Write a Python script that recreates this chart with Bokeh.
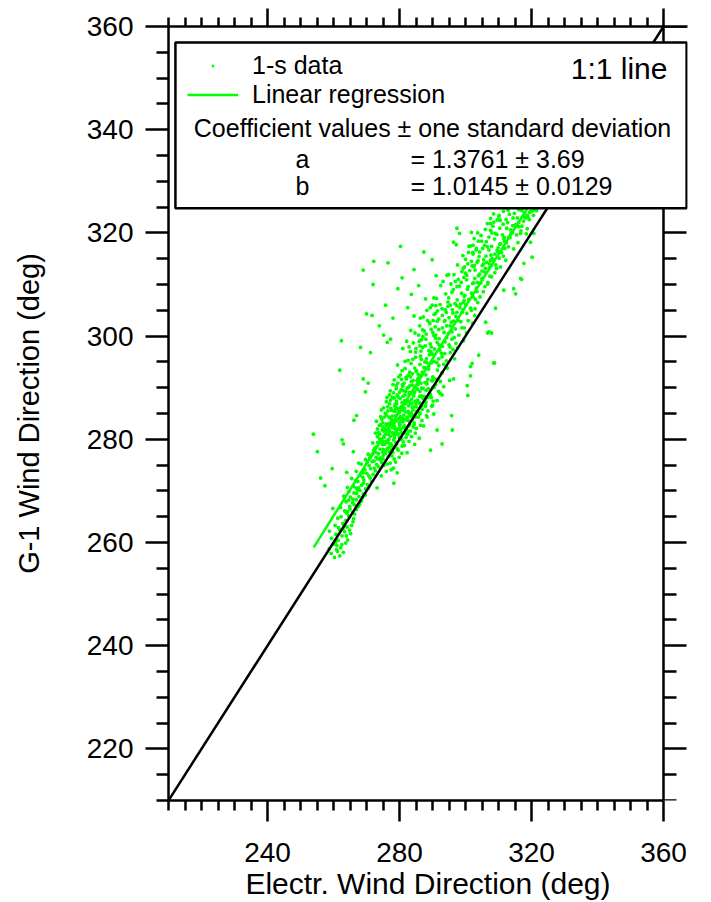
from bokeh.plotting import figure
from bokeh.models import (LinearAxis, FixedTicker, Range1d, BoxAnnotation, Label,
                          Legend, LegendItem, ColumnDataSource)
from bokeh.embed import file_html
from bokeh.resources import INLINE

FONT = "Liberation Sans"
GREEN = "#00ff00"

# ---------------- data ----------------
x_limits = [210, 360]
y_limits = [210, 360]
x_major_ticks = [240, 280, 320, 360]
y_major_ticks = [220, 240, 260, 280, 300, 320, 340, 360]
minor_step = 5

coef_names = ["a", "b"]
coef_values = ["1.3761", "1.0145"]
coef_sigmas = ["3.69", "0.0129"]
reg_intercept = 1.3761
reg_slope = 1.0145
reg_x_extent = [254.0, 323.0]
one_to_one = [210, 360]

lower_band = [
    (260.3,257.1),(261.9,257.4),(259.3,257.9),(263.0,258.1),(260.9,258.6),(258.7,258.8),(262.2,259.0),(260.1,259.7),(263.7,259.9),(261.4,260.4),
    (259.4,260.8),(264.3,260.5),(262.6,261.3),(260.7,261.6),(263.4,262.1),(265.2,261.7),(261.8,262.5),(264.1,263.0),(262.8,263.7),(260.5,263.3),
    (265.5,263.3),(263.7,264.3),(266.1,264.6),(264.6,265.2),(262.3,265.0),(265.8,265.9),(263.4,266.1),(266.9,266.4),(264.9,267.0),(267.5,267.0),
    (265.8,267.7),(263.8,267.9),(266.9,268.3),(268.4,268.0),(265.1,268.8),(267.7,268.9),(266.2,269.6),(269.0,269.4),(264.7,269.9),(267.3,270.2),
    (269.7,270.4),(266.0,270.9),(268.5,271.1),(270.3,271.2),(267.4,271.8),(269.2,272.1),(265.5,272.4),(271.1,272.5),(268.1,273.0),(270.1,273.4),
    (272.0,273.2),(266.9,273.8),(269.5,274.1),(272.4,274.4),(270.8,274.9),(268.4,275.2),(273.1,275.1),(271.7,275.7),(269.7,276.1),(274.2,276.0),
    (261.3,264.7),(263.1,269.0),(262.1,266.8),(266.7,272.0),(264.2,270.7),(270.5,277.1),(272.9,276.5),(275.1,276.9),(258.8,262.2),(259.8,266.6),
    (261.2,258.3),(262.5,259.6),(260.6,260.0),(263.9,261.3),(261.5,262.9),(264.9,262.4),(263.2,263.1),(265.9,264.0),(264.3,266.0),(266.4,265.5),
    (265.0,266.5),(267.9,267.4),(266.3,267.3),(268.8,268.7),(264.6,268.2),(267.0,269.5),(269.6,269.2),(268.0,270.1),(270.6,270.6),(266.8,270.6),
    (269.1,271.5),(271.5,271.8),(268.9,272.6),(270.7,272.9),(272.7,273.9),(269.0,273.5),(271.3,274.3),(273.6,274.7),(270.2,275.5),(272.3,275.8),
    (274.6,275.5),(271.0,276.4),(273.4,276.2),(275.8,277.3),(272.0,277.2),(267.6,270.6),(265.9,268.4),(264.0,265.7),(262.9,262.6),(261.0,259.4),
]

blob = [
    (271.4,276.8),(273.6,277.2),(272.2,277.9),(274.9,277.5),(276.3,278.2),(273.1,278.6),(275.5,279.0),(271.9,279.3),(277.4,279.1),(274.4,279.7),
    (276.8,280.0),(273.3,280.5),(278.5,280.3),(275.7,280.9),(272.7,281.2),(277.9,281.3),(279.6,281.0),(274.8,281.8),(276.6,282.1),(280.4,281.9),
    (278.6,282.4),(273.9,282.7),(281.5,282.6),(275.9,283.0),(277.7,283.4),(279.9,283.2),(282.3,283.7),(274.6,283.9),(276.8,284.3),(280.9,284.1),
    (278.9,284.6),(283.2,284.5),(275.7,285.0),(281.9,285.3),(277.6,285.6),(279.8,285.9),(284.1,285.7),(276.4,286.3),(282.8,286.5),(278.7,286.8),
    (280.8,287.1),(285.0,286.9),(277.3,287.6),(283.7,287.8),(279.6,288.2),(281.7,288.6),(286.1,288.3),(278.2,289.0),(284.6,289.2),(280.5,289.6),
    (282.7,290.1),(287.2,289.8),(279.0,290.4),(285.6,290.6),(281.4,290.9),(288.3,290.7),(283.6,291.2),(272.5,278.3),(274.2,276.4),(277.0,277.6),
    (278.9,279.4),(280.7,280.2),(282.6,281.6),(284.4,283.2),(286.2,285.1),(287.9,286.6),(289.4,288.5),(276.0,279.6),(278.1,282.9),(280.0,285.2),
    (281.8,286.9),(283.5,288.9),(285.3,291.4),(275.2,281.6),(277.1,284.2),(279.2,286.9),(281.2,289.4),(273.0,283.5),(274.5,285.7),(276.2,288.1),
    (278.0,290.6),(279.8,292.1),(282.9,285.0),(284.8,287.4),(286.7,289.9),(288.6,291.6),(281.0,283.4),(283.9,286.2),(275.1,278.0),(277.8,278.7),
    (279.7,282.0),(281.3,284.7),(283.0,287.3),(284.9,290.0),(286.6,292.4),(274.0,280.1),(276.9,283.1),(278.4,285.4),(280.2,287.9),(282.1,291.7),
    (276.5,279.3),(277.2,280.6),(278.2,279.9),(279.1,281.5),(277.9,282.2),(280.1,282.9),(279.0,283.6),(281.4,283.9),(280.3,284.4),(282.6,285.4),
    (281.5,286.0),(283.4,286.9),(282.4,287.5),(284.3,288.4),(283.0,289.1),(285.4,289.7),(284.0,290.5),(286.5,290.9),(277.6,283.8),(278.8,285.9),
    (280.6,286.4),(279.3,288.6),(281.9,289.3),(278.1,281.2),(276.0,282.7),(275.4,284.3),(277.4,286.0),(280.0,289.1),(281.0,290.3),(282.0,282.2),
    (283.0,283.5),(284.0,284.6),(285.1,286.3),(286.0,287.1),(287.0,288.0),(288.1,289.5),(276.9,278.5),(274.8,279.0),(273.7,281.3),(275.8,282.0),
    (274.3,282.8),(278.4,288.0),(277.0,288.6),(279.5,290.9),(283.3,292.1),(285.1,293.2),(287.4,293.9),(284.7,284.8),(286.4,286.0),(287.7,287.7),
    (272.8,277.5),(274.1,278.1),(275.9,277.9),(277.6,278.0),(273.4,279.4),(275.0,279.6),(276.6,279.9),(278.3,280.8),(279.9,280.4),(274.0,281.0),
    (275.3,280.4),(277.0,281.6),(278.8,281.9),(280.5,281.3),(281.9,282.0),(273.3,282.0),(275.0,282.4),(276.6,282.9),(278.4,283.1),(280.6,283.6),
    (282.4,284.0),(274.3,284.4),(276.0,284.7),(277.8,284.5),(279.5,285.3),(281.0,285.6),(283.6,285.1),(275.2,286.1),(277.0,286.9),(278.6,286.4),
    (280.3,286.1),(282.0,287.2),(283.8,287.0),(285.5,287.6),(276.0,287.3),(277.8,288.1),(279.1,287.4),(281.0,288.3),(282.9,288.7),(284.5,289.0),
    (286.2,289.3),(277.2,289.4),(279.0,289.8),(280.9,290.6),(282.3,289.9),(284.1,291.4),(285.9,291.1),(287.7,291.0),(278.4,291.5),(280.3,292.5),
    (282.0,292.0),(283.9,292.7),(286.0,292.0),(288.0,292.5),(289.9,291.5),(276.7,281.0),(279.0,281.0),(281.2,282.3),(283.1,282.9),(284.9,284.3),
    (286.7,286.5),(288.5,288.1),(290.1,290.0),(274.9,283.2),(277.3,283.2),(279.8,284.0),(276.5,285.5),(279.0,286.1),(281.6,287.5),(283.2,290.4),
]

blob_right = [
    (274.5,272.9),(276.0,273.8),(275.3,274.9),(277.2,275.4),(276.6,276.6),(278.4,276.2),(278.0,277.5),(279.6,277.9),(279.1,279.0),(280.8,278.7),
    (280.3,280.0),(282.0,280.4),(281.6,281.2),(283.3,281.6),(282.8,282.6),(284.5,282.9),(283.9,283.9),(285.7,284.3),(285.2,285.4),(286.9,285.8),
    (286.3,286.9),(288.0,287.2),(287.5,288.3),(289.3,288.8),(288.7,289.8),(290.5,290.1),(289.9,291.3),(291.6,291.6),(277.5,274.1),(279.9,276.5),
    (281.5,278.8),(283.6,280.5),(285.1,282.1),(286.8,283.6),(288.6,285.5),(290.2,287.4),(291.8,289.3),(277.7,276.8),(279.3,278.2),(281.1,279.5),
    (282.5,281.0),(284.2,282.4),(286.1,284.9),(287.8,286.4),(289.6,288.1),(291.0,290.6),(276.3,275.2),(278.8,275.6),(280.7,277.3),(282.9,279.6),
    (284.8,281.2),(286.4,282.7),(288.2,284.6),(290.0,286.6),(292.3,288.9),(275.0,276.2),(280.1,282.6),(282.3,284.3),(284.4,286.3),(286.6,288.4),
]

mid_band = [
    (280.6,291.6),(282.7,292.4),(285.6,291.8),(286.9,293.0),(290.1,292.1),(291.5,293.4),(281.7,293.7),(284.6,293.8),(286.2,294.5),(288.9,294.2),
    (290.4,295.1),(293.4,294.5),(282.6,295.3),(284.9,295.9),(287.7,295.0),(289.1,296.4),(291.9,295.6),(293.7,296.6),(283.3,297.0),(286.5,297.1),
    (287.8,298.1),(290.6,297.5),(292.2,297.3),(295.3,297.9),(284.2,298.7),(286.7,299.3),(289.3,298.5),(290.9,299.6),(293.8,298.9),(295.9,299.4),
    (285.8,300.2),(287.5,301.0),(290.4,300.1),(291.9,301.3),(294.9,300.5),(296.9,301.4),(286.1,302.0),(289.2,302.4),(290.8,301.8),(293.6,302.9),
    (295.3,302.0),(298.6,302.8),(287.2,303.7),(290.5,304.2),(291.9,303.3),(294.2,304.6),(297.1,303.8),(299.0,304.6),(289.3,305.5),(291.0,305.9),
    (293.9,305.1),(295.4,306.0),(298.3,305.5),(300.1,306.1),(281.0,297.6),(279.4,294.4),(283.4,301.1),(284.4,303.9),(282.2,299.0),
    (288.2,291.0),(290.7,291.7),(292.9,292.9),(294.5,293.8),(296.7,295.6),(297.6,297.7),(299.4,299.1),(300.3,300.6),(302.2,302.5),(302.8,304.0),
    (288.8,293.6),(291.3,294.9),(292.7,296.7),(295.0,298.3),(296.6,299.7),(298.9,301.6),(300.8,303.0),(301.8,305.0),(285.7,292.6),(288.2,294.9),
    (289.5,297.0),(292.0,298.3),(293.5,300.7),(295.7,302.7),(297.4,304.6),(283.5,294.7),(286.2,298.1),(288.1,300.4),(290.2,303.0),(292.9,305.3),
    (283.1,293.0),(285.1,293.3),(287.6,293.9),(289.6,294.8),(291.9,294.3),(284.0,295.5),(286.4,296.1),(288.2,295.6),(290.0,296.5),(292.9,296.0),
    (295.4,296.8),(285.0,297.6),(287.0,297.8),(289.6,297.9),(291.4,298.8),(293.0,298.0),(294.3,299.7),(297.1,298.6),(286.0,299.0),(288.0,299.4),
    (290.1,300.7),(292.0,299.5),(293.0,301.6),(295.9,300.8),(298.0,300.2),(287.0,301.2),(289.6,301.3),(291.4,302.9),(294.3,302.0),(296.4,302.9),
    (299.6,301.6),(288.5,303.0),(290.9,304.4),(293.0,304.0),(295.0,303.6),(297.8,303.0),(300.4,304.4),(289.9,306.0),(292.3,306.1),(294.7,305.8),
    (296.8,306.3),(299.3,306.5),(301.5,305.4),(284.9,296.9),(287.1,299.9),(289.1,302.6),(291.5,304.9),(286.6,295.5),(288.9,297.2),(291.0,300.2),
    (293.8,303.0),(296.0,305.1),(284.7,300.6),(286.3,303.5),(288.3,305.0),(282.9,297.9),(281.7,295.1),(280.8,293.3),(294.2,295.2),(296.2,297.4),
]

upper_band = [
    (294.7,306.6),(297.5,307.0),(299.6,306.9),(302.3,307.6),(303.7,306.5),(291.2,307.3),(294.0,308.2),(295.9,308.5),(298.8,308.3),(300.6,309.1),
    (303.5,308.6),(305.9,309.6),(292.5,309.8),(295.6,310.1),(297.4,309.6),(300.3,310.9),(302.2,310.2),(305.1,311.0),(306.8,310.4),(294.4,311.8),
    (296.5,311.9),(299.5,311.4),(301.3,312.7),(304.3,312.0),(306.0,313.1),(308.9,312.3),(297.6,313.8),(300.7,314.0),(302.5,313.5),(305.5,314.8),
    (307.2,314.0),(310.2,315.1),(299.2,315.6),(302.3,315.9),(304.1,315.4),(307.1,316.7),(308.9,315.9),(311.9,317.0),(301.0,317.4),(303.9,318.4),
    (305.8,317.6),(308.8,318.8),(310.6,317.9),(313.5,319.1),(304.7,319.5),(307.6,320.5),(309.5,319.7),(312.5,320.9),(314.2,320.1),(317.1,321.3),
    (306.6,321.8),(309.6,322.5),(311.4,321.7),(314.4,322.9),(316.1,322.0),(318.9,323.2),(308.5,323.7),(311.5,324.2),(313.3,323.6),(316.2,324.5),
    (317.9,323.9),(320.5,324.4),(299.2,305.1),(301.0,307.1),(303.3,309.3),(305.0,311.2),(307.9,313.7),(309.2,313.8),(311.5,315.5),(313.0,317.3),
    (315.5,319.6),(316.8,320.4),(319.3,322.6),(320.6,323.4),(302.9,305.3),(304.4,307.6),(306.7,310.1),(307.9,311.5),(310.6,313.4),(312.2,314.7),
    (314.6,316.9),(315.9,318.1),(318.4,319.8),(296.2,304.5),(298.5,306.2),(299.8,307.9),(302.5,310.3),(303.9,311.7),(306.4,314.3),(307.7,315.7),
    (310.4,317.8),(311.8,319.1),(314.3,321.4),(315.7,322.9),
    (297.4,305.9),(299.6,307.7),(301.8,308.3),(303.0,307.1),(305.4,308.6),(296.3,309.0),(298.2,309.7),(300.8,309.6),(302.8,311.2),(304.6,310.3),
    (307.4,311.6),(297.8,311.0),(300.0,312.2),(302.9,312.8),(305.0,312.6),(307.2,313.2),(309.4,313.1),(299.3,313.1),(301.8,314.5),(303.8,314.6),
    (306.2,315.5),(308.1,315.0),(310.9,316.2),(300.9,316.2),(303.2,316.7),(305.2,317.0),(307.9,317.4),(309.9,317.1),(312.4,318.1),(302.6,318.9),
    (304.9,318.4),(307.1,319.2),(309.0,319.9),(311.2,319.6),(313.7,320.6),(306.0,320.7),(308.3,321.3),(310.4,320.9),(312.8,322.0),(315.2,321.6),
    (317.6,322.3),(307.6,322.8),(310.2,323.4),(312.3,322.6),(314.8,323.8),(317.1,324.3),(319.4,324.0),(321.5,324.3),(298.7,310.4),(300.4,311.8),
    (302.0,313.6),(304.3,316.3),(306.3,318.3),(308.0,320.0),(310.5,322.4),(312.9,324.4),(303.6,310.4),(305.8,312.4),(307.6,314.7),(309.8,316.4),
    (311.8,318.4),(313.8,319.9),(316.1,321.2),(318.2,322.9),(320.0,324.2),(294.9,307.4),(296.9,310.6),(298.9,312.5),(300.0,314.9),(302.3,317.6),
]

left_scatter = [
    (253.9,281.0),(255.1,277.6),(256.1,272.5),(257.4,271.0),(259.6,274.3),(262.6,279.9),(263.0,279.1),(262.4,299.1),(261.9,293.4),(268.2,297.8),
    (271.2,296.8),(269.0,291.7),(270.5,290.9),(269.7,289.2),(266.2,283.7),(267.0,284.6),(266.0,277.6),(267.6,275.4),(264.0,273.6),(275.2,300.2),
    (276.3,298.8),(277.3,299.4),(269.0,312.8),(272.2,314.5),(272.0,310.0),(276.5,314.2),(280.3,317.4),(280.8,311.3),(284.4,312.9),(287.4,316.3),
    (289.9,314.8),(291.1,311.7),(283.6,308.1),(270.0,304.3),(271.7,304.0),(287.9,307.2),(290.4,307.4),(293.2,310.6),(294.9,311.9),(297.4,320.9),
    (298.2,319.9),(301.8,320.1),(303.7,320.0),(296.4,318.2),(297.2,317.7),(301.5,317.5),(303.3,317.0),(302.2,316.2),(299.7,313.4),(302.7,313.7),
    (305.1,313.7),(307.6,321.8),(308.6,322.1),(310.1,323.1),(275.8,306.0),(278.0,303.5),(273.9,302.0),(279.5,309.2),(282.5,305.5),(285.8,309.8),
]

right_scatter = [
    (289.4,277.9),(292.9,279.1),(291.4,281.8),(296.0,281.8),(282.3,277.4),(279.3,273.5),(278.3,271.5),(273.2,270.6),(278.2,274.4),(295.8,284.6),
    (290.4,284.9),(292.9,288.6),(291.4,287.5),(292.4,291.2),(293.4,290.2),(296.4,291.7),(295.2,291.4),(301.5,292.3),(300.5,290.4),(300.7,288.5),
    (302.0,294.7),(304.0,296.3),(308.5,294.8),(306.7,300.6),(307.9,300.6),(306.1,302.7),(307.1,300.8),(308.8,294.8),(309.1,305.4),(311.6,308.9),
    (314.6,309.2),(317.0,311.0),(315.2,308.2),(316.7,311.2),(317.7,314.1),(320.2,315.3),(319.7,318.2),(320.7,319.9),(318.7,320.8),(316.7,319.9),
    (311.6,318.9),(313.1,319.2),(317.7,323.1),(318.7,323.4),(306.6,317.3),(309.6,316.6),(303.5,314.3),(305.5,314.0),(308.6,314.7),(301.5,294.1),
    (286.0,280.2),(284.6,279.0),(287.3,282.6),(288.4,284.3),(289.8,286.4),
]

# ---------------- figure ----------------
all_pts = lower_band + blob + blob_right + mid_band + upper_band + left_scatter + right_scatter
src = ColumnDataSource(data=dict(x=[q[0] for q in all_pts], y=[q[1] for q in all_pts]))

W, H = 711, 902
LEFT, RIGHT, TOP, BOTTOM = 168, 24, 26, 101
PX_PER_UNIT = 3.3
x_end = x_limits[0] + (W - LEFT - RIGHT) / PX_PER_UNIT   # frame reaches past 360 so the legend box can cover the right axis

p = figure(width=W, height=H,
           x_range=Range1d(x_limits[0], x_end), y_range=Range1d(*y_limits),
           output_backend="svg", toolbar_location=None,
           x_axis_location=None, y_axis_location=None,
           min_border_left=LEFT, min_border_right=RIGHT,
           min_border_top=TOP, min_border_bottom=BOTTOM)
p.outline_line_color = None
p.grid.visible = False
p.background_fill_color = "white"


def minors(majors, lo, hi):
    return [v for v in range(lo, hi + 1, minor_step) if v not in majors]


def make_axis(ticks, lo, hi, labels, tick_major, tick_minor, standoff):
    ax = LinearAxis(ticker=FixedTicker(ticks=ticks, minor_ticks=minors(ticks, lo, hi)))
    ax.axis_line_width = 2.5
    ax.axis_line_color = "black"
    ax.major_tick_line_width = 2.5
    ax.minor_tick_line_width = 2.5
    ax.major_tick_line_color = "black"
    ax.minor_tick_line_color = "black"
    ax.major_tick_in = 0
    ax.minor_tick_in = 0
    ax.major_tick_out = tick_major
    ax.minor_tick_out = tick_minor
    ax.major_label_text_font = FONT
    ax.major_label_text_color = "black"
    ax.major_label_standoff = standoff
    if labels:
        ax.major_label_text_font_size = "28px"
    else:
        ax.major_label_text_font_size = "0px"
        ax.major_label_overrides = {t: "" for t in ticks}
    return ax


bottom_ax = make_axis(x_major_ticks, x_limits[0], x_limits[1], True, 21, 10, 21)
bottom_ax.bounds = (x_limits[0], x_limits[1])
bottom_ax.axis_label = "Electr. Wind Direction (deg)"
bottom_ax.axis_label_text_font = FONT
bottom_ax.axis_label_text_font_size = "30px"
bottom_ax.axis_label_text_font_style = "normal"
bottom_ax.axis_label_text_color = "black"
bottom_ax.axis_label_standoff = 2

top_ax = make_axis(x_major_ticks, x_limits[0], x_limits[1], False, 18, 9, 0)

left_ax = make_axis(y_major_ticks, y_limits[0], y_limits[1], True, 23, 12, 12)
left_ax.axis_label = "G-1 Wind Direction (deg)"
left_ax.axis_label_text_font = FONT
left_ax.axis_label_text_font_size = "29px"
left_ax.axis_label_text_font_style = "normal"
left_ax.axis_label_text_color = "black"
left_ax.axis_label_standoff = 39

right_ax = make_axis(y_major_ticks, y_limits[0], y_limits[1], False, 23, 13, 0)
right_ax.fixed_location = x_limits[1]

p.add_layout(bottom_ax, "below")
p.add_layout(top_ax, "above")
p.add_layout(left_ax, "left")
p.add_layout(right_ax, "right")

# data glyphs
pts = p.scatter("x", "y", source=src, size=3.8, marker="circle",
                fill_color=GREEN, line_color=None)
reg_y = [reg_intercept + reg_slope * x for x in reg_x_extent]
reg = p.line(reg_x_extent, reg_y, line_color=GREEN, line_width=2.5)
p.line(one_to_one, one_to_one, line_color="black", line_width=2.5)

# legend key: a hidden copy of the points drawn as a tiny dot, like the original key
dot_key = p.scatter("x", "y", source=src, marker="dot", size=12,
                    line_color=GREEN, fill_color=GREEN, visible=False)

# legend box (drawn over data and the right axis)
box = BoxAnnotation(left=212.1, right=367.0, bottom=324.8, top=356.9,
                    fill_color="white", fill_alpha=1.0,
                    line_color="black", line_width=2.5, line_alpha=1.0)
p.add_layout(box)

legend = Legend(items=[LegendItem(label="1-s data", renderers=[dot_key]),
                       LegendItem(label="Linear regression", renderers=[reg])],
                location=(19, 691), background_fill_alpha=0, border_line_color=None,
                inactive_fill_alpha=0.0,
                label_text_font=FONT, label_text_font_size="25px", label_text_color="black",
                glyph_width=51, glyph_height=29, label_height=29, spacing=0,
                padding=0, margin=0, label_standoff=14)
p.add_layout(legend)

txt = dict(text_font=FONT, text_color="black", text_baseline="middle")
p.add_layout(Label(x=361.2, y=351.9, text="1:1 line", text_align="right",
                   text_font_size="30px", **txt))
p.add_layout(Label(x=290.0, y=340.25, text="Coefficient values \u00b1 one standard deviation",
                   text_align="center", text_font_size="25px", **txt))
row_y = [334.4, 329.0]
for name, val, sig, yy in zip(coef_names, coef_values, coef_sigmas, row_y):
    p.add_layout(Label(x=250.6, y=yy, text=name, text_align="center",
                       text_font_size="25px", **txt))
    p.add_layout(Label(x=283.3, y=yy, text="= %s \u00b1 %s" % (val, sig), text_align="left",
                       text_font_size="25px", **txt))

open("out.html", "w").write(file_html(p, INLINE))
